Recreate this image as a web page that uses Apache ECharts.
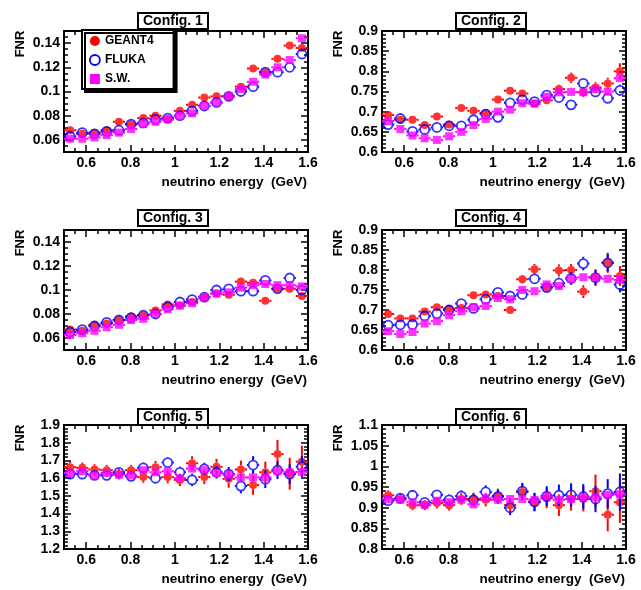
<!DOCTYPE html>
<html><head><meta charset="utf-8">
<script src="https://cdn.jsdelivr.net/npm/echarts@6/dist/echarts.min.js"></script>
<style>html,body{margin:0;padding:0;background:#fff}#c{width:641px;height:590px}</style>
</head><body><div id="c"></div><script>
// ---------- data ----------
const binCenters = [0.5275,0.5825,0.6375,0.6925,0.7475,0.8025,0.8575,0.9125,0.9675,1.0225,
                    1.0775,1.1325,1.1875,1.2425,1.2975,1.3525,1.4075,1.4625,1.5175,1.5725];
const binHalfWidth = 0.0275;
const xRange = [0.5, 1.6];
const xTickLabels = [0.6, 0.8, 1, 1.2, 1.4, 1.6];
const xMinorStep = 0.05;
const xTitle = 'neutrino energy  (GeV)';
const yTitle = 'FNR';
const seriesNames = ['GEANT4', 'FLUKA', 'S.W.'];
const panelTitles = ['Config. 1','Config. 2','Config. 3','Config. 4','Config. 5','Config. 6'];

const yRange1 = [0.05, 0.15], yTicks1 = [0.06,0.08,0.1,0.12,0.14], yMinor1 = 0.005;
const yRange2 = [0.6, 0.9],  yTicks2 = [0.6,0.65,0.7,0.75,0.8,0.85,0.9], yMinor2 = 0.01;
const yRange3 = [0.05, 0.15], yTicks3 = [0.06,0.08,0.1,0.12,0.14], yMinor3 = 0.005;
const yRange4 = [0.6, 0.9],  yTicks4 = [0.6,0.65,0.7,0.75,0.8,0.85,0.9], yMinor4 = 0.01;
const yRange5 = [1.2, 1.9],  yTicks5 = [1.2,1.3,1.4,1.5,1.6,1.7,1.8,1.9], yMinor5 = 0.02;
const yRange6 = [0.8, 1.1],  yTicks6 = [0.8,0.85,0.9,0.95,1,1.05,1.1], yMinor6 = 0.01;

// Config 1
const g4_1 = [0.068,0.065,0.066,0.068,0.075,0.073,0.078,0.080,0.077,0.084,0.089,0.095,0.096,0.096,0.104,0.119,0.116,0.127,0.138,0.136];
const fl_1 = [0.063,0.066,0.065,0.067,0.068,0.073,0.074,0.077,0.078,0.080,0.084,0.088,0.091,0.096,0.100,0.104,0.116,0.116,0.120,0.131];
const sw_1 = [0.061,0.061,0.062,0.064,0.066,0.069,0.073,0.075,0.077,0.080,0.082,0.088,0.091,0.096,0.102,0.108,0.114,0.120,0.126,0.144];
const g4err_1 = [0.0012,0.0012,0.0012,0.0012,0.0012,0.0012,0.0013,0.0013,0.0013,0.0014,0.0014,0.0015,0.0015,0.0016,0.0017,0.0018,0.0019,0.0020,0.0021,0.0023];
const flerr_1 = [0.0012,0.0012,0.0012,0.0012,0.0012,0.0012,0.0013,0.0013,0.0013,0.0014,0.0014,0.0015,0.0015,0.0016,0.0017,0.0018,0.0019,0.0020,0.0021,0.0023];
const swerr_1 = [0.0008,0.0008,0.0008,0.0008,0.0008,0.0008,0.0009,0.0009,0.0009,0.0010,0.0010,0.0010,0.0011,0.0011,0.0012,0.0012,0.0013,0.0014,0.0015,0.0016];
// Config 2
const g4_2 = [0.692,0.680,0.680,0.667,0.688,0.668,0.709,0.702,0.697,0.730,0.752,0.745,0.720,0.728,0.756,0.784,0.748,0.760,0.770,0.800];
const fl_2 = [0.668,0.683,0.651,0.656,0.661,0.665,0.665,0.680,0.694,0.686,0.722,0.730,0.725,0.741,0.735,0.717,0.770,0.749,0.733,0.753];
const sw_2 = [0.677,0.657,0.641,0.634,0.630,0.639,0.650,0.667,0.682,0.700,0.705,0.721,0.720,0.737,0.748,0.749,0.748,0.756,0.750,0.783];
const g4err_2 = [0.006,0.006,0.006,0.006,0.006,0.006,0.006,0.006,0.007,0.007,0.008,0.008,0.009,0.010,0.011,0.013,0.012,0.013,0.014,0.020];
const flerr_2 = [0.006,0.006,0.006,0.006,0.006,0.006,0.006,0.006,0.007,0.007,0.008,0.008,0.008,0.009,0.010,0.010,0.012,0.012,0.011,0.014];
const swerr_2 = [0.003,0.003,0.003,0.003,0.003,0.003,0.003,0.003,0.004,0.004,0.004,0.004,0.004,0.005,0.005,0.005,0.006,0.006,0.006,0.007];
// Config 3
const g4_3 = [0.067,0.066,0.071,0.072,0.075,0.078,0.079,0.083,0.088,0.087,0.090,0.094,0.097,0.096,0.107,0.106,0.091,0.101,0.101,0.095];
const fl_3 = [0.065,0.067,0.070,0.073,0.075,0.077,0.079,0.080,0.086,0.090,0.092,0.094,0.100,0.101,0.099,0.099,0.108,0.101,0.110,0.100];
const sw_3 = [0.0625,0.064,0.066,0.069,0.071,0.075,0.076,0.080,0.084,0.087,0.089,0.094,0.097,0.098,0.102,0.104,0.105,0.104,0.104,0.103];
const g4err_3 = [0.0012,0.0012,0.0012,0.0012,0.0012,0.0012,0.0013,0.0013,0.0013,0.0014,0.0014,0.0015,0.0015,0.0016,0.0017,0.0018,0.0019,0.0020,0.0021,0.0023];
const flerr_3 = [0.0012,0.0012,0.0012,0.0012,0.0012,0.0012,0.0013,0.0013,0.0013,0.0014,0.0014,0.0015,0.0015,0.0016,0.0017,0.0018,0.0019,0.0020,0.0021,0.0023];
const swerr_3 = [0.0008,0.0008,0.0008,0.0008,0.0008,0.0008,0.0009,0.0009,0.0009,0.0010,0.0010,0.0010,0.0011,0.0011,0.0012,0.0012,0.0013,0.0014,0.0015,0.0016];
// Config 4
const g4_4 = [0.690,0.679,0.679,0.696,0.707,0.703,0.705,0.737,0.739,0.735,0.700,0.777,0.802,0.757,0.799,0.800,0.746,0.781,0.818,0.785];
const fl_4 = [0.662,0.663,0.664,0.685,0.691,0.700,0.716,0.704,0.727,0.744,0.735,0.739,0.778,0.756,0.767,0.779,0.816,0.781,0.818,0.764];
const sw_4 = [0.647,0.640,0.645,0.666,0.672,0.687,0.697,0.707,0.710,0.730,0.727,0.750,0.747,0.764,0.760,0.778,0.782,0.781,0.778,0.775];
const g4err_4 = [0.006,0.006,0.006,0.006,0.006,0.006,0.007,0.008,0.008,0.008,0.009,0.011,0.013,0.012,0.015,0.015,0.016,0.020,0.025,0.025];
const flerr_4 = [0.006,0.006,0.006,0.006,0.006,0.007,0.007,0.008,0.008,0.009,0.009,0.010,0.012,0.012,0.014,0.016,0.017,0.020,0.022,0.020];
const swerr_4 = [0.004,0.004,0.004,0.004,0.004,0.004,0.004,0.005,0.005,0.005,0.005,0.005,0.006,0.006,0.006,0.007,0.007,0.007,0.008,0.008];
// Config 5
const g4_5 = [1.662,1.658,1.649,1.645,1.623,1.645,1.606,1.662,1.606,1.590,1.684,1.606,1.664,1.596,1.649,1.561,1.633,1.736,1.625,1.693];
const fl_5 = [1.623,1.623,1.616,1.616,1.633,1.610,1.658,1.600,1.688,1.633,1.590,1.652,1.633,1.623,1.555,1.674,1.594,1.645,1.623,1.665];
const sw_5 = [1.629,1.639,1.616,1.629,1.619,1.616,1.645,1.633,1.639,1.600,1.654,1.645,1.629,1.619,1.604,1.604,1.604,1.639,1.633,1.635];
const g4err_5 = [0.030,0.030,0.030,0.030,0.030,0.030,0.032,0.035,0.035,0.035,0.040,0.040,0.045,0.050,0.050,0.055,0.060,0.080,0.090,0.090];
const flerr_5 = [0.025,0.025,0.025,0.025,0.025,0.028,0.030,0.030,0.030,0.032,0.035,0.035,0.035,0.040,0.040,0.050,0.050,0.050,0.055,0.060];
const swerr_5 = [0.012,0.012,0.012,0.012,0.012,0.013,0.013,0.014,0.014,0.015,0.015,0.016,0.017,0.018,0.019,0.020,0.021,0.022,0.023,0.025];
// Config 6
const g4_6 = [0.930,0.921,0.906,0.906,0.911,0.906,0.921,0.921,0.919,0.928,0.906,0.938,0.913,0.923,0.906,0.921,0.921,0.940,0.883,0.913];
const fl_6 = [0.917,0.923,0.930,0.913,0.931,0.919,0.928,0.919,0.938,0.927,0.900,0.940,0.914,0.928,0.930,0.931,0.927,0.921,0.934,0.938];
const sw_6 = [0.921,0.919,0.913,0.907,0.917,0.913,0.919,0.908,0.923,0.919,0.921,0.921,0.919,0.927,0.919,0.921,0.925,0.925,0.931,0.932];
const g4err_6 = [0.012,0.012,0.012,0.012,0.013,0.013,0.014,0.015,0.016,0.018,0.018,0.020,0.022,0.024,0.026,0.028,0.030,0.040,0.040,0.050];
const flerr_6 = [0.012,0.012,0.012,0.012,0.012,0.013,0.014,0.015,0.016,0.017,0.018,0.020,0.022,0.024,0.026,0.028,0.030,0.032,0.035,0.045];
const swerr_6 = [0.005,0.005,0.005,0.005,0.005,0.005,0.005,0.006,0.006,0.006,0.006,0.006,0.007,0.007,0.007,0.008,0.008,0.008,0.009,0.010];

// ---------- assembly ----------
const panels = [
  {yRange:yRange1, yTicks:yTicks1, yMinor:yMinor1, vals:[g4_1,fl_1,sw_1], errs:[g4err_1,flerr_1,swerr_1]},
  {yRange:yRange2, yTicks:yTicks2, yMinor:yMinor2, vals:[g4_2,fl_2,sw_2], errs:[g4err_2,flerr_2,swerr_2]},
  {yRange:yRange3, yTicks:yTicks3, yMinor:yMinor3, vals:[g4_3,fl_3,sw_3], errs:[g4err_3,flerr_3,swerr_3]},
  {yRange:yRange4, yTicks:yTicks4, yMinor:yMinor4, vals:[g4_4,fl_4,sw_4], errs:[g4err_4,flerr_4,swerr_4]},
  {yRange:yRange5, yTicks:yTicks5, yMinor:yMinor5, vals:[g4_5,fl_5,sw_5], errs:[g4err_5,flerr_5,swerr_5]},
  {yRange:yRange6, yTicks:yTicks6, yMinor:yMinor6, vals:[g4_6,fl_6,sw_6], errs:[g4err_6,flerr_6,swerr_6]}
];

// layout (pixels)
const layout = [
  {left:64,  top:31,  width:244, height:121, titleTop:13},
  {left:382, top:31,  width:244, height:121, titleTop:13},
  {left:64,  top:230, width:244, height:120, titleTop:210},
  {left:382, top:230, width:244, height:120, titleTop:210},
  {left:64,  top:425, width:244, height:124, titleTop:409},
  {left:382, top:425, width:244, height:124, titleTop:409}
];
const colors = ['#ff0000', '#0000ff', '#ff00ff'];
const FONT = 'Liberation Sans';

function minorTicks(range, step, majors) {
  const out = [];
  const k0 = Math.round(range[0] / step), k1 = Math.round(range[1] / step);
  for (let k = k0; k <= k1; k++) {
    const v = +(k * step).toFixed(6);
    if (!majors.some(m => Math.abs(m - v) < 1e-9)) out.push(v);
  }
  return out;
}

const grid = [], xAxis = [], yAxis = [], series = [], title = [], graphic = [];
const tickStyle = {color:'#000', width:1.5};
const labelStyle = {show:true, fontSize:14, fontWeight:'bold', fontFamily:FONT, color:'#000'};

function axisDef(kind, gi, pos, range, ticks, len, withLabels) {
  const a = {
    type:'value', gridIndex:gi, position:pos, min:range[0], max:range[1],
    axisLine:{show:false}, splitLine:{show:false},
    axisTick:{show:true, inside:true, length:len, customValues:ticks, lineStyle:tickStyle},
    axisLabel: withLabels ? Object.assign({customValues:ticks, margin:kind==='x'?4:4}, labelStyle) : {show:false}
  };
  return a;
}

panels.forEach((p, gi) => {
  const L = layout[gi];
  grid.push({left:L.left, top:L.top, width:L.width, height:L.height, show:true,
             borderColor:'#000', borderWidth:2, backgroundColor:'#fff'});
  const xMin = minorTicks(xRange, xMinorStep, xTickLabels);
  const yMin = minorTicks(p.yRange, p.yMinor, p.yTicks);
  const xi = xAxis.length, yi = yAxis.length;
  xAxis.push(axisDef('x', gi, 'bottom', xRange, xTickLabels, 7, true));
  xAxis.push(axisDef('x', gi, 'bottom', xRange, xMin, 4, false));
  xAxis.push(axisDef('x', gi, 'top', xRange, xTickLabels, 7, false));
  xAxis.push(axisDef('x', gi, 'top', xRange, xMin, 4, false));
  yAxis.push(axisDef('y', gi, 'left', p.yRange, p.yTicks, 7, true));
  yAxis.push(axisDef('y', gi, 'left', p.yRange, yMin, 4, false));
  yAxis.push(axisDef('y', gi, 'right', p.yRange, p.yTicks, 7, false));
  yAxis.push(axisDef('y', gi, 'right', p.yRange, yMin, 4, false));

  seriesNames.forEach((name, d) => {
    const data = binCenters.map((x, i) => [x, p.vals[d][i], p.errs[d][i]]);
    const gap = d === 1 ? 5 : 4;
    series.push({
      type:'custom', name:name, xAxisIndex:xi, yAxisIndex:yi, clip:true, z:2 + d * 2,
      itemStyle:{color:colors[d]}, data:data, silent:true,
      renderItem:function(params, api) {
        const x = api.value(0), y = api.value(1), e = api.value(2);
        const c = api.coord([x, y]);
        const pl = api.coord([x - binHalfWidth, y]);
        const pr = api.coord([x + binHalfWidth, y]);
        const pt = api.coord([x, y + e]);
        const pb = api.coord([x, y - e]);
        const st = {stroke:colors[d], lineWidth:2};
        const ch = [];
        if (c[0] - gap > pl[0]) ch.push({type:'line', shape:{x1:pl[0], y1:c[1], x2:c[0] - gap, y2:c[1]}, style:st});
        if (pr[0] > c[0] + gap) ch.push({type:'line', shape:{x1:c[0] + gap, y1:c[1], x2:pr[0], y2:c[1]}, style:st});
        if (c[1] - gap > pt[1]) ch.push({type:'line', shape:{x1:c[0], y1:pt[1], x2:c[0], y2:c[1] - gap}, style:st});
        if (pb[1] > c[1] + gap) ch.push({type:'line', shape:{x1:c[0], y1:c[1] + gap, x2:c[0], y2:pb[1]}, style:st});
        return {type:'group', children:ch};
      }
    });
    const sc = {
      type:'scatter', name:name, xAxisIndex:xi, yAxisIndex:yi, z:3 + d * 2, silent:true,
      data:data.map(v => [v[0], v[1]]), clip:true
    };
    if (d === 0) { sc.symbol = 'circle'; sc.symbolSize = 8; sc.itemStyle = {color:colors[0]}; }
    if (d === 1) { sc.symbol = 'circle'; sc.symbolSize = 9; sc.itemStyle = {color:'rgba(255,255,255,0)', borderColor:colors[1], borderWidth:1.8}; }
    if (d === 2) { sc.symbol = 'rect'; sc.symbolSize = 8; sc.itemStyle = {color:colors[2]}; }
    series.push(sc);
  });

  title.push({
    text:panelTitles[gi], left:L.left + L.width / 2 - 48, top:L.titleTop,
    padding:[1, 5, 1, 5], borderColor:'#000', borderWidth:2, backgroundColor:'#fff',
    textStyle:{fontSize:14, fontWeight:'bold', fontFamily:FONT, color:'#000', lineHeight:14}
  });
  graphic.push({
    type:'text', x:L.left - 44, y:L.top + 13, rotation:Math.PI / 2,
    style:{text:yTitle, font:'bold 13px ' + FONT, fill:'#000', textAlign:'center', textVerticalAlign:'middle', align:'center', verticalAlign:'middle'}
  });
  graphic.push({
    type:'text', x:L.left + L.width - 1, y:L.top + L.height + 30,
    style:{text:xTitle, font:'bold 13.5px ' + FONT, fill:'#000', textAlign:'right', textVerticalAlign:'middle', align:'right', verticalAlign:'middle'}
  });
});

const legend = {
  show:true, orient:'vertical', left:82, top:30, z:20,
  backgroundColor:'#fff', borderColor:'#000', borderWidth:2,
  shadowColor:'#000', shadowBlur:0, shadowOffsetX:3, shadowOffsetY:3,
  padding:[4, 20, 3, 7], itemGap:5, itemWidth:10, itemHeight:10, selectedMode:false,
  textStyle:{fontSize:12, fontWeight:'bold', fontFamily:FONT, color:'#000', lineHeight:14},
  data:[
    {name:'GEANT4', icon:'circle', itemStyle:{color:colors[0]}},
    {name:'FLUKA', icon:'circle', itemStyle:{color:'#fff', borderColor:colors[1], borderWidth:1.8}},
    {name:'S.W.', icon:'rect', itemStyle:{color:colors[2]}}
  ]
};

const chart = echarts.init(document.getElementById('c'), null, {renderer:'canvas'});
chart.setOption({
  backgroundColor:'#fff', animation:false,
  title:title, legend:legend, grid:grid, xAxis:xAxis, yAxis:yAxis, series:series, graphic:graphic
});
</script></body></html>
